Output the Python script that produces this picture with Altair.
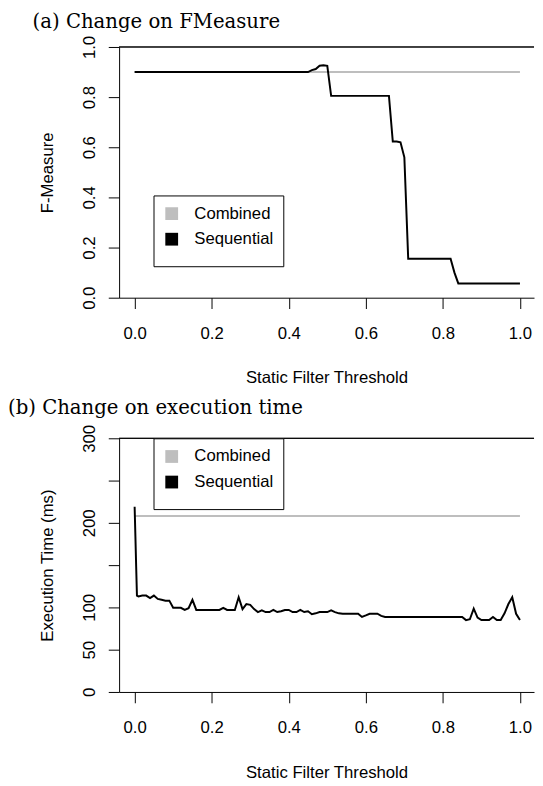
import altair as alt
import pandas as pd

# ---------------- data ----------------
series_names = ["Combined", "Sequential"]
series_colors = ["#bebebe", "#000000"]

x_ticks = [0.0, 0.2, 0.4, 0.6, 0.8, 1.0]
y_ticks_a = [0.0, 0.2, 0.4, 0.6, 0.8, 1.0]
y_ticks_b = [0, 50, 100, 150, 200, 250, 300]

# panel (a): F-Measure
combined_x_a = [0.0, 1.0]
combined_fmeasure = [0.90, 0.90]
thresholds_a = [round(0.01 * i, 2) for i in range(101)]
sequential_fmeasure = [
    0.90, 0.90, 0.90, 0.90, 0.90, 0.90, 0.90, 0.90, 0.90, 0.90,
    0.90, 0.90, 0.90, 0.90, 0.90, 0.90, 0.90, 0.90, 0.90, 0.90,
    0.90, 0.90, 0.90, 0.90, 0.90, 0.90, 0.90, 0.90, 0.90, 0.90,
    0.90, 0.90, 0.90, 0.90, 0.90, 0.90, 0.90, 0.90, 0.90, 0.90,
    0.90, 0.90, 0.90, 0.90, 0.90, 0.90, 0.908, 0.912, 0.925, 0.927,
    0.925, 0.805, 0.805, 0.805, 0.805, 0.805, 0.805, 0.805, 0.805, 0.805,
    0.805, 0.805, 0.805, 0.805, 0.805, 0.805, 0.805, 0.623, 0.623, 0.62,
    0.56, 0.155, 0.155, 0.155, 0.155, 0.155, 0.155, 0.155, 0.155, 0.155,
    0.155, 0.155, 0.155, 0.10, 0.057, 0.057, 0.057, 0.057, 0.057, 0.057,
    0.057, 0.057, 0.057, 0.057, 0.057, 0.057, 0.057, 0.057, 0.057, 0.057,
    0.057,
]

# panel (b): execution time (ms)
combined_x_b = [0.0, 1.0]
combined_time = [208, 208]
thresholds_b = [0.0, 0.002, 0.004, 0.006] + [round(0.01 * i, 2) for i in range(1, 101)]
sequential_time = [
    219, 184, 148, 114,
    113, 114, 114, 111, 114, 110, 109, 108, 108, 99.5,
    99.5, 99.5, 97, 99, 109, 97, 97, 97, 97, 97,
    97, 97, 99.5, 97, 97, 97, 112, 98, 104, 103,
    98, 94.5, 96.5, 94.5, 94.5, 97, 94.5, 95.5, 97, 97,
    94.5, 94.5, 97, 94.5, 95.5, 92, 93, 94.5, 94.5, 94.5,
    96.5, 94.5, 93, 92.5, 92.5, 92.5, 92.5, 92.5, 88.7, 90.5,
    92.5, 92.5, 92.5, 90, 88.7, 88.7, 88.7, 88.7, 88.7, 88.7,
    88.7, 88.7, 88.7, 88.7, 88.7, 88.7, 88.7, 88.7, 88.7, 88.7,
    88.7, 88.7, 88.7, 88.7, 88.7, 85, 86, 98.5, 88, 85,
    85, 85, 88.7, 85, 85, 93, 104, 112, 92.5, 85,
]

# ---------------- chart ----------------
SANS = "Liberation Sans"
SERIF = "DejaVu Serif"
PLOT_W = 422


def frame(cx, cy, sx, sy):
    comb = pd.DataFrame({"x": cx, "y": cy, "series": "Combined"})
    seq = pd.DataFrame({"x": sx, "y": sy, "series": "Sequential"})
    return comb, seq


def panel(comb, seq, ydomain, yticks, yformat, ytitle, title, title_dx,
          title_offset, legend_y, height, x_title_y, label_expr=None):
    xscale = alt.Scale(domain=[-0.0403, 1.0365], nice=False, zero=False)
    yscale = alt.Scale(domain=ydomain, nice=False, zero=False)
    cscale = alt.Scale(domain=series_names, range=series_colors)

    def legend():
        # filled squares drawn as thick-stroked small squares
        return alt.Legend(
            orient="none", legendX=35, legendY=legend_y, title=None,
            strokeColor="black", fillColor="white", padding=10,
            symbolType="square", symbolSize=36, symbolStrokeWidth=7,
            symbolFillColor="transparent", symbolOpacity=1,
            labelFont=SANS, labelFontSize=17, labelColor="black",
            labelOffset=14.5, rowPadding=-18,
        )

    y_axis_kw = dict(
        values=yticks, format=yformat, title=ytitle, tickSize=11,
        labelPadding=14, labelAngle=270, labelAlign="center",
        labelBaseline="alphabetic", labelFlush=False, labelOverlap=False,
        titleAngle=270, titleX=-68, titleY=height / 2, titleAlign="center",
        titleBaseline="alphabetic", grid=False,
    )
    if label_expr:
        y_axis_kw["labelExpr"] = label_expr

    x_axis_kw = dict(
        values=x_ticks, format=".1f", title="Static Filter Threshold",
        tickSize=11, labelPadding=17, labelFlush=False, labelOverlap=False,
        titleY=x_title_y, titleBaseline="alphabetic", grid=False,
    )

    def X():
        return alt.X("x:Q", scale=xscale, axis=alt.Axis(**x_axis_kw))

    def Y():
        return alt.Y("y:Q", scale=yscale, axis=alt.Axis(**y_axis_kw))

    comb_layer = alt.Chart(comb).mark_line(strokeWidth=2).encode(
        x=X(), y=Y(),
        color=alt.Color("series:N", scale=cscale, legend=legend()),
    )
    seq_layer = alt.Chart(seq).mark_line(strokeWidth=2).encode(
        x=X(), y=Y(),
        color=alt.Color("series:N", scale=cscale, legend=legend()),
    )
    # top border of the plot frame (R style box, right side lies off the page)
    top_border = alt.Chart(comb).mark_rule(color="black", strokeWidth=1).encode(
        x=alt.value(0), x2=alt.value(PLOT_W), y=alt.value(0)
    )
    return alt.layer(comb_layer, seq_layer, top_border).properties(
        width=PLOT_W, height=height,
        title=alt.TitleParams(
            text=title, anchor="start", frame="group", dx=title_dx,
            offset=title_offset, font=SERIF, fontSize=20, fontWeight="normal",
            baseline="alphabetic", color="black",
        ),
    )


ca, sa = frame(combined_x_a, combined_fmeasure, thresholds_a, sequential_fmeasure)
cb, sb = frame(combined_x_b, combined_time, thresholds_b, sequential_time)

panel_a = panel(ca, sa, [0, 1], y_ticks_a, ".1f", "F-Measure",
                "(a) Change on FMeasure", -88, -12, 151, 255, 86)
panel_b = panel(cb, sb, [0, 300], y_ticks_b, "d", "Execution Time (ms)",
                "(b) Change on execution time", -113, -9, 0, 258, 87,
                label_expr="datum.value == 150 || datum.value == 250 ? '' : datum.label")

chart = alt.vconcat(panel_a, panel_b, spacing=12).resolve_scale(
    x="independent", y="independent", color="independent"
).properties(
    padding={"top": -3, "left": 0, "right": 0, "bottom": 0},
    background="white",
).configure_view(
    stroke=None
).configure_axis(
    labelFont=SANS, labelFontSize=17, labelColor="black",
    titleFont=SANS, titleFontSize=17, titleFontWeight="normal", titleColor="black",
    domainColor="black", tickColor="black", domainWidth=1, tickWidth=1,
)

chart.save("out.html", embed_options={"renderer": "svg", "actions": False})
